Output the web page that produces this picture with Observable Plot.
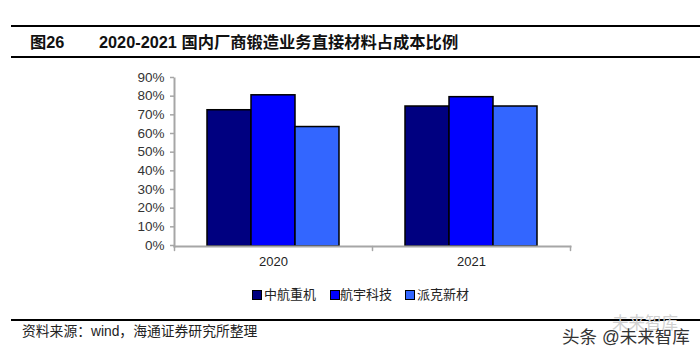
<!DOCTYPE html>
<html><head><meta charset="utf-8">
<script src="https://cdn.jsdelivr.net/npm/d3@7"></script>
<script src="https://cdn.jsdelivr.net/npm/@observablehq/plot@0.6"></script>
<style>
html,body{margin:0;padding:0;background:#fff;width:700px;height:357px;overflow:hidden}
#wrap{position:relative;width:700px;height:357px;font-family:"Liberation Sans","Noto Sans CJK SC",sans-serif}
#wrap svg{position:absolute;left:0;top:0}
.abs{position:absolute;white-space:nowrap;line-height:1}
.line{position:absolute;background:#000;height:2px;left:11px;right:0}
.sw{position:absolute;width:8px;height:8px;border:1px solid #000;top:290px}
</style></head><body><div id="wrap"></div>
<script>
const years = ["2020","2021"];
const companies = ["中航重机","航宇科技","派克新材"];
const colors = ["#000080","#0000ff","#3366ff"];
const values2020 = [73,81,64];
const values2021 = [75,80,75];
const yTicks = [0,10,20,30,40,50,60,70,80,90];
const table = [[years[0],values2020],[years[1],values2021]]
  .flatMap(([year,vals])=>vals.map((v,i)=>({year,company:companies[i],value:v})));
const axisGray = "#a6a6a6";
const tickShape = {draw(ctx,l){ctx.moveTo(0,0);ctx.lineTo(0,-l);}};
const chart = Plot.plot({
  width:700,height:357,
  marginLeft:173,marginRight:130,marginTop:78,marginBottom:111,
  style:{fontFamily:'"Liberation Sans","Noto Sans CJK SC",sans-serif',background:"transparent"},
  fx:{domain:years,padding:0,label:null},
  x:{domain:companies,paddingInner:0,paddingOuter:0.74,axis:null,label:null},
  y:{domain:[0,90],label:null},
  color:{domain:companies,range:colors},
  marks:[
    Plot.barY(table,{fx:"year",x:"company",y:"value",fill:"company",stroke:"#000",strokeWidth:1.5}),
    Plot.frame({anchor:"left",facet:"super",stroke:axisGray,strokeWidth:2}),
    Plot.frame({anchor:"bottom",facet:"super",stroke:axisGray,strokeWidth:2}),
    Plot.axisY({ticks:yTicks,tickFormat:d=>d+"%",tickSize:4,tickPadding:6,dy:-1,fontSize:13.5,color:"#333",stroke:axisGray,strokeWidth:1.5,strokeOpacity:1,label:null,anchor:"left"}),
    Plot.vector(years,{fx:d=>d,frameAnchor:"bottom-left",length:4,anchor:"start",shape:tickShape,rotate:180,stroke:axisGray,strokeWidth:1.5}),
    Plot.vector([years[1]],{fx:d=>d,frameAnchor:"bottom-right",length:4,anchor:"start",shape:tickShape,rotate:180,stroke:axisGray,strokeWidth:1.5}),
    Plot.axisFx({tickSize:0,tickPadding:10,fontSize:13,color:"#222",label:null,anchor:"bottom"})
  ]
});
const wrap = document.getElementById("wrap");
wrap.append(chart);
function add(cls,text,css){const d=document.createElement("div");d.className=cls;d.textContent=text;d.style.cssText=css;wrap.append(d);return d;}
add("line","","top:25px");
add("line","","top:56px");
add("line","","top:319px");
add("abs","图26","left:30px;top:34px;font-size:16.3px;font-weight:700;color:#111");
add("abs","2020-2021 国内厂商锻造业务直接材料占成本比例","left:99px;top:34px;font-size:16.3px;font-weight:700;color:#111");
const swX=[252,330,405], txtX=[264,340,417];
companies.forEach((c,i)=>{
  add("sw","",`left:${swX[i]}px;background:${colors[i]}`);
  add("abs",c,`left:${txtX[i]}px;top:288px;font-size:13px;color:#222`);
});
add("abs","资料来源：wind，海通证券研究所整理","left:22px;top:325px;font-size:13.8px;color:#222");
add("abs","未来智库","left:612px;top:315px;font-size:16.5px;color:#d0d0d0");
add("abs","头条","left:562px;top:329px;font-size:17.5px;color:#333");
add("abs","@未来智库","left:602px;top:329px;font-size:17.5px;color:#333");
</script></body></html>
